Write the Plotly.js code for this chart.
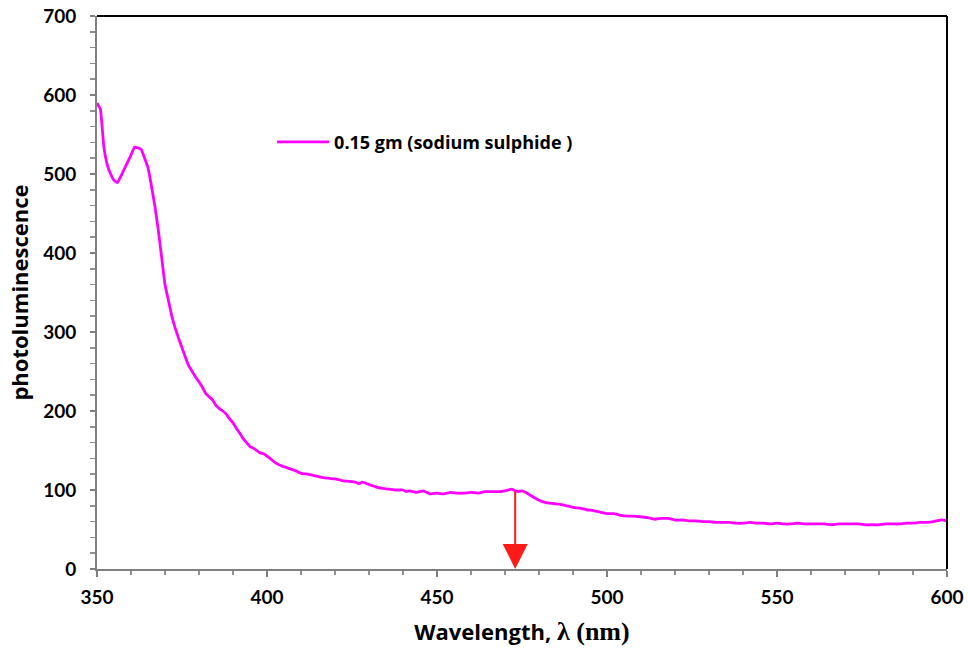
<!DOCTYPE html>
<html>
<head>
<meta charset="utf-8">
<script src="https://cdn.plot.ly/plotly-3.0.1.min.js"></script>
<style>html,body{margin:0;padding:0;background:#fff;}#chart{width:968px;height:650px;}</style>
</head>
<body>
<div id="chart"></div>
<script>
const wavelength = [350,351,352,353,354,355,356,357,358,359,360,361,362,363,364,365,366,367,368,369,370,371,372,373,374,375,376,377,378,379,380,381,382,383,384,385,386,387,388,389,390,391,392,393,394,395,396,397,398,399,400,402,404,406,408,410,412,414,416,418,420,422,424,426,427,428,430,432,434,436,438,440,441,442,444,446,448,450,452,454,456,458,460,462,464,466,468,470,472,473,474,475,476,478,480,482,484,486,488,490,492,494,496,498,500,502,504,506,508,510,512,514,516,518,520,522,524,526,528,530,532,534,536,538,540,542,544,546,548,550,552,554,556,558,560,562,564,566,568,570,572,574,576,578,580,582,584,586,588,590,592,594,596,597,598,599,600];
const photoluminescence = [590,582,535,512,500,492,489,497,506,515,524,534,533,531,520,508,485,460,430,395,360,340,320,305,292,280,268,257,250,243,237,230,222,218,214,207,203,200,196,190,185,178,172,165,160,155,153,150,147,146,143,136,131,128,125,121,120,118,116,115,114,112,111,110,108,110,107,104,102,101,100,100,98,99,97,99,95,96,95,97,96,96,97,96,98,98,98,99,101,99,98,99,97,92,87,84,83,82,80,78,77,75,74,72,70,70,68,67,67,66,65,63,64,64,62,62,61,61,60,60,59,59,59,58,58,59,58,58,57,58,57,57,58,57,57,57,57,56,57,57,57,57,56,56,56,57,57,57,58,58,59,59,60,61,62,62,61];
const seriesName = "0.15 gm (sodium sulphide )";
const arrowX = [473];
const arrowFrom = [100];
const arrowTo = [0];

const fontTick = "Lato, 'Open Sans', sans-serif";
const fontText = "'Open Sans', Lato, sans-serif";
const data = [{
  x: wavelength, y: photoluminescence, type: 'scatter', mode: 'lines',
  name: seriesName, line: {color: '#ff00ff', width: 2.8, shape: 'spline', smoothing: 0.3}
}];
const layout = {
  width: 968, height: 650,
  margin: {l: 97, r: 21, t: 16, b: 81},
  paper_bgcolor: '#fff', plot_bgcolor: '#fff',
  showlegend: true,
  legend: {x: 0.206, y: 0.772, xanchor: 'left', yanchor: 'middle', bgcolor: 'rgba(0,0,0,0)',
    itemwidth: 52,
    font: {family: fontText, size: 18, color: '#000', weight: 'bold'}},
  xaxis: {
    range: [350, 600], dtick: 50, tick0: 350, showgrid: false, zeroline: false,
    showline: true, linecolor: '#808080', linewidth: 2,
    ticks: 'outside', ticklen: 6, tickwidth: 1.5, tickcolor: '#808080',
    ticklabelstandoff: 4,
    minor: {dtick: 10, ticks: 'outside', ticklen: 4, tickwidth: 1.5, tickcolor: '#909090', showgrid: false},
    tickfont: {family: fontTick, size: 19, color: '#000', weight: 'bold'},
    title: {text: "Wavelength, <span style=\"font-family:'Liberation Serif',serif;font-size:26px\">λ (nm)</span>", standoff: 18,
      font: {family: fontText, size: 22, color: '#000', weight: 'bold'}}
  },
  yaxis: {
    range: [0, 700], dtick: 100, showgrid: false, zeroline: false,
    showline: true, linecolor: '#808080', linewidth: 2,
    ticks: 'outside', ticklen: 5, tickwidth: 1.5, tickcolor: '#808080',
    ticklabelstandoff: 10,
    minor: {dtick: 20, ticks: 'outside', ticklen: 5, tickwidth: 1.5, tickcolor: '#909090', showgrid: false},
    tickfont: {family: fontTick, size: 19, color: '#000', weight: 'bold'},
    title: {text: 'photoluminescence', standoff: 8,
      font: {family: fontText, size: 22, color: '#000', weight: 'bold'}}
  },
  shapes: [
    {type: 'line', xref: 'paper', yref: 'paper', x0: 0, x1: 1, y0: 1, y1: 1, line: {color: '#000', width: 2}},
    {type: 'line', xref: 'paper', yref: 'paper', x0: 1, x1: 1, y0: 0, y1: 1, line: {color: '#000', width: 2}}
  ],
  annotations: [{
    x: arrowX[0], y: arrowTo[0], ax: arrowX[0], ay: arrowFrom[0], axref: 'x', ayref: 'y', xref: 'x', yref: 'y',
    showarrow: true, arrowhead: 2, arrowsize: 2.5, arrowwidth: 2, arrowcolor: '#ff1a1a', text: ''
  }]
};
Plotly.newPlot('chart', data, layout, {displayModeBar: false, staticPlot: true});
</script>
</body>
</html>
